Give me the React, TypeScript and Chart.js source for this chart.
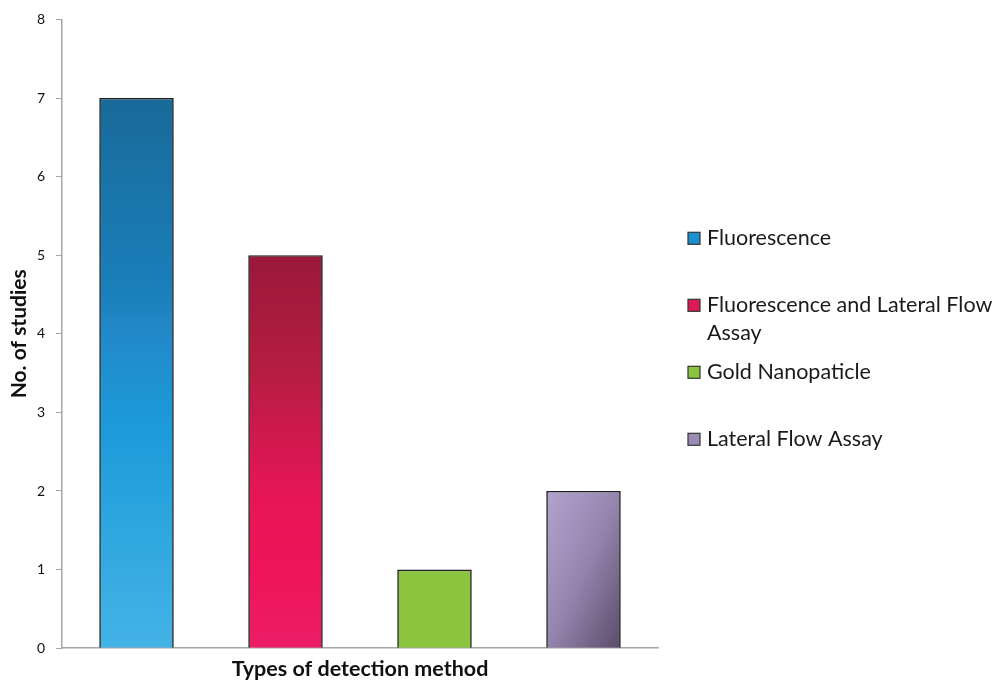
import React, { useEffect, useRef } from "react";
import { Chart, registerables } from "chart.js";

Chart.register(...registerables);

const categories = ["Fluorescence", "Fluorescence and Lateral Flow Assay", "Gold Nanopaticle", "Lateral Flow Assay"];
const legendLines: string[][] = [["Fluorescence"], ["Fluorescence and Lateral Flow", "Assay"], ["Gold Nanopaticle"], ["Lateral Flow Assay"]];
const studies = [7, 5, 1, 2];
const legendColors = ["#1b8fcf", "#dc1a56", "#8bc540", "#9a8ab4"];

const FONT = "Lato, 'Open Sans', sans-serif";

function barFill(context: any) {
  const chart = context.chart;
  const { ctx, chartArea, scales } = chart;
  if (!chartArea || !scales.x || !scales.y) return legendColors[context.dataIndex];
  const i = context.dataIndex;
  const v = studies[i];
  const xc = scales.x.getPixelForValue(i);
  const top = scales.y.getPixelForValue(v);
  const bottom = scales.y.getPixelForValue(0);
  const half = (scales.x.width / categories.length) * 0.25;
  if (i === 0) {
    const g = ctx.createLinearGradient(xc, top, xc, bottom);
    g.addColorStop(0, "#196a99");
    g.addColorStop(0.35, "#1a7fba");
    g.addColorStop(0.42, "#2288c8");
    g.addColorStop(0.6, "#1c9bd9");
    g.addColorStop(1, "#44b3e6");
    return g;
  }
  if (i === 1) {
    const g = ctx.createLinearGradient(xc, top, xc, bottom);
    g.addColorStop(0, "#9a1838");
    g.addColorStop(0.3, "#b51d42");
    g.addColorStop(0.6, "#e51656");
    g.addColorStop(0.8, "#ee1459");
    g.addColorStop(1, "#ec1d66");
    return g;
  }
  if (i === 2) return "#8bc540";
  const w = half * 2;
  const h = bottom - top;
  const L2 = w * w + h * h;
  const k = (2 * w * h) / L2;
  const g = ctx.createLinearGradient(xc - half, top, xc - half + h * k, top + w * k);
  g.addColorStop(0, "#b3a3d0");
  g.addColorStop(0.5, "#9585ae");
  g.addColorStop(1, "#5a4c6a");
  return g;
}

const sideLegend = {
  id: "sideLegend",
  afterDraw(chart: any) {
    const { ctx, chartArea } = chart;
    const mid = (chartArea.top + chartArea.bottom) / 2;
    const lineH = 28;
    const gapSingle = 67;
    const gapAfterMulti = 39;
    let y = mid - 95.5;
    const boxX = chartArea.right + 30;
    ctx.save();
    ctx.font = `21.5px ${FONT}`;
    ctx.textBaseline = "middle";
    ctx.textAlign = "left";
    legendLines.forEach((lines, i) => {
      ctx.fillStyle = legendColors[i];
      ctx.fillRect(boxX, y - 6, 12, 12);
      ctx.strokeStyle = "#333";
      ctx.lineWidth = 1.2;
      ctx.strokeRect(boxX, y - 6, 12, 12);
      ctx.fillStyle = "#1a1a1a";
      lines.forEach((t, j) => ctx.fillText(t, boxX + 19, y + j * lineH));
      y += (lines.length - 1) * lineH + (lines.length > 1 ? gapAfterMulti : gapSingle);
    });
    ctx.restore();
  },
};

export default function App() {
  const ref = useRef<HTMLCanvasElement>(null);
  useEffect(() => {
    if (!ref.current) return;
    const chart = new Chart(ref.current, {
      type: "bar",
      data: {
        labels: categories,
        datasets: [
          {
            data: studies,
            backgroundColor: barFill,
            borderColor: "#1e1e1e",
            borderWidth: 1.6,
            barPercentage: 0.5,
            categoryPercentage: 1,
          },
        ],
      },
      options: {
        animation: false,
        responsive: true,
        maintainAspectRatio: false,
        layout: { padding: { top: 12, right: 339, bottom: 0, left: 7 } },
        plugins: {
          tooltip: { enabled: false },
          legend: { display: false },
        },
        scales: {
          x: {
            offset: true,
            grid: { display: false },
            border: { color: "#a6a6a6", width: 1.5 },
            ticks: { display: false },
            title: {
              display: true,
              text: "Types of detection method",
              font: { family: FONT, size: 21.5, weight: "bold" },
              color: "#111",
              padding: { top: 0, bottom: 0 },
            },
          },
          y: {
            min: 0,
            max: 8,
            afterFit: (axis: any) => {
              axis.width = 55;
            },
            grid: { display: true, drawOnChartArea: false, drawTicks: true, tickLength: 6, color: "#a6a6a6" },
            border: { color: "#a6a6a6", width: 1.5 },
            ticks: { stepSize: 1, font: { family: FONT, size: 14 }, color: "#111", padding: 11 },
            title: {
              display: true,
              text: "No. of studies",
              font: { family: FONT, size: 21, weight: "bold" },
              color: "#111",
              padding: { top: 0, bottom: 4 },
            },
          },
        },
      },
      plugins: [sideLegend],
    });
    return () => chart.destroy();
  }, []);
  return (
    <div style={{ position: "fixed", left: 0, top: 0, width: 997, height: 682, background: "#fff" }}>
      <canvas ref={ref} />
    </div>
  );
}
